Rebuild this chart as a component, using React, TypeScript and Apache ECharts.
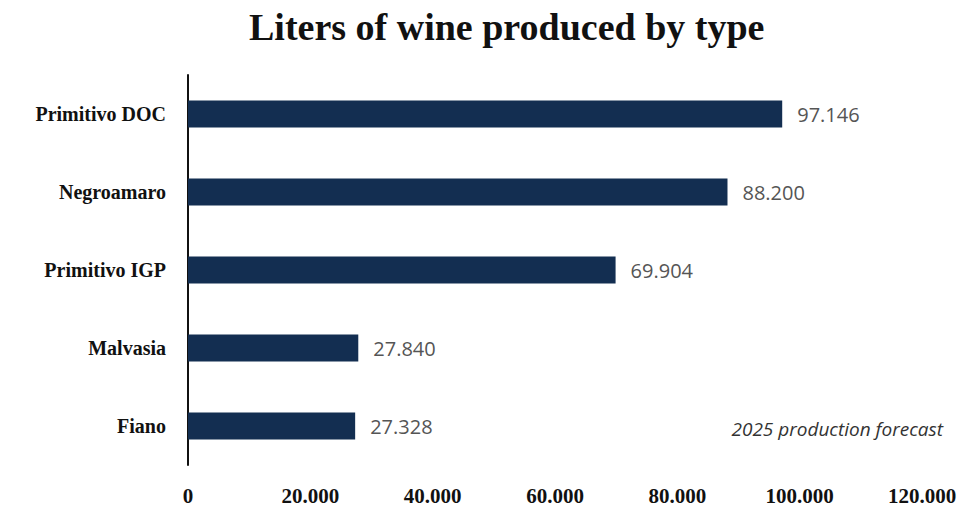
import React, { useEffect, useRef } from "react";
import * as echarts from "echarts";

const categories = ["Primitivo DOC", "Negroamaro", "Primitivo IGP", "Malvasia", "Fiano"];
const values = [97146, 88200, 69904, 27840, 27328];
const titleText = "Liters of wine produced by type";
const noteText = "2025 production forecast";

const fmt = (v: number) => {
  const s = Math.round(v).toString();
  return s.replace(/\B(?=(\d{3})+(?!\d))/g, ".");
};

export default function App() {
  const ref = useRef<HTMLDivElement>(null);
  useEffect(() => {
    if (!ref.current) return;
    const chart = echarts.init(ref.current, undefined, { renderer: "svg" });
    chart.setOption({
      animation: false,
      backgroundColor: "#ffffff",
      title: {
        text: titleText,
        left: 244,
        top: 3,
        textStyle: {
          fontFamily: "Liberation Serif",
          fontWeight: "bold",
          fontSize: 38,
          color: "#111111",
        },
      },
      grid: { left: 188, right: 57, top: 75, bottom: 42, containLabel: false },
      xAxis: {
        type: "value",
        min: 0,
        max: 120000,
        interval: 20000,
        axisLine: { show: false },
        axisTick: { show: false },
        splitLine: { show: false },
        axisLabel: {
          formatter: (v: number) => fmt(v),
          fontFamily: "Liberation Serif",
          fontWeight: "bold",
          fontSize: 21,
          color: "#111111",
          margin: 20,
        },
      },
      yAxis: {
        type: "category",
        data: categories,
        inverse: true,
        axisLine: { show: true, lineStyle: { color: "#111111", width: 2 } },
        axisTick: { show: false },
        axisLabel: {
          fontFamily: "Liberation Serif",
          fontWeight: "bold",
          fontSize: 20,
          color: "#111111",
          margin: 22,
        },
      },
      series: [
        {
          type: "bar",
          data: values,
          barWidth: 27,
          itemStyle: { color: "#132e51" },
          label: {
            show: true,
            position: "right",
            distance: 15,
            formatter: (p: any) => fmt(p.value),
            fontFamily: "Open Sans",
            fontSize: 20,
            color: "#555555",
          },
        },
      ],
      graphic: [
        {
          type: "text",
          right: 36,
          top: 419,
          style: {
            text: noteText,
            fontFamily: "Open Sans",
            fontStyle: "italic",
            fontSize: 19,
            fill: "#333333",
          },
        },
      ],
    });
    return () => chart.dispose();
  }, []);
  return <div ref={ref} style={{ width: 979, height: 507, position: "absolute", left: 0, top: 0 }} />;
}
